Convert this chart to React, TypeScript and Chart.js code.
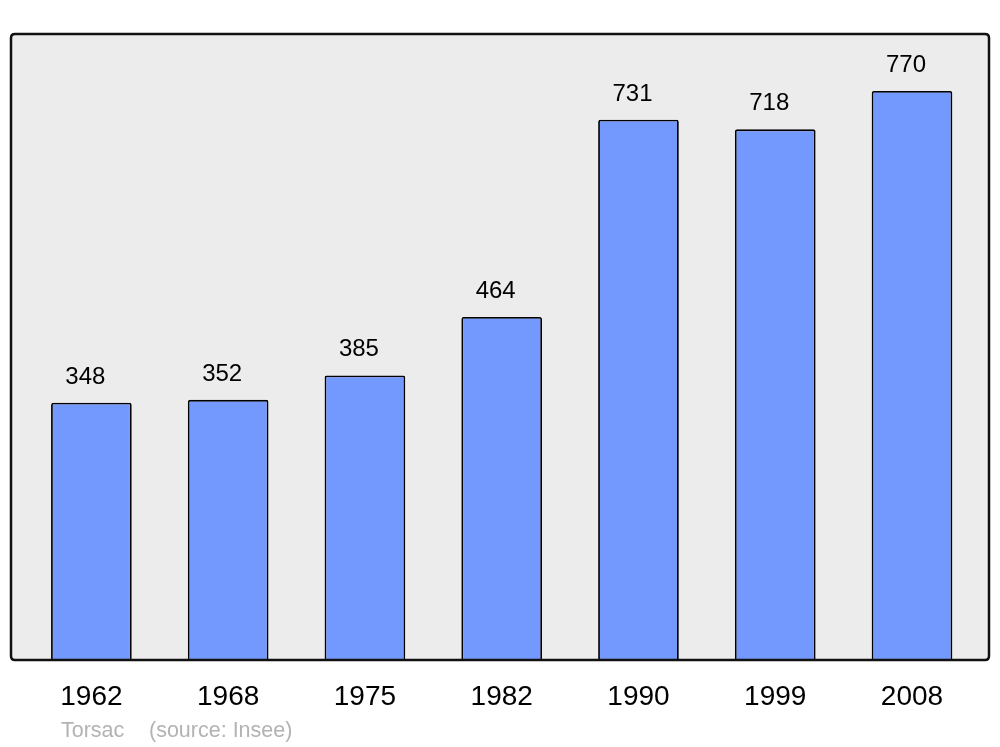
import React, { useEffect, useRef } from "react";
import { Chart, registerables } from "chart.js";

Chart.register(...registerables);

const years = ["1962", "1968", "1975", "1982", "1990", "1999", "2008"];
const population = [348, 352, 385, 464, 731, 718, 770];
const townName = "Torsac";
const sourceText = "(source: Insee)";

const FONT = "'Liberation Sans', Arial, sans-serif";

function framePath(ctx: any, x0: number, y0: number, x1: number, y1: number, r: number) {
  ctx.beginPath();
  ctx.moveTo(x0 + r, y0);
  ctx.lineTo(x1 - r, y0);
  ctx.quadraticCurveTo(x1, y0, x1, y0 + r);
  ctx.lineTo(x1, y1 - r);
  ctx.quadraticCurveTo(x1, y1, x1 - r, y1);
  ctx.lineTo(x0 + r, y1);
  ctx.quadraticCurveTo(x0, y1, x0, y1 - r);
  ctx.lineTo(x0, y0 + r);
  ctx.quadraticCurveTo(x0, y0, x0 + r, y0);
  ctx.closePath();
}

const framePlugin = {
  id: "frame",
  beforeDraw(chart: any) {
    const { ctx, chartArea } = chart;
    ctx.save();
    framePath(ctx, 11, chartArea.top, 989, chartArea.bottom, 4);
    ctx.fillStyle = "#ececec";
    ctx.fill();
    ctx.restore();
  },
  afterDatasetsDraw(chart: any) {
    const { ctx, chartArea } = chart;
    ctx.save();
    framePath(ctx, 11, chartArea.top, 989, chartArea.bottom, 4);
    ctx.lineWidth = 2.5;
    ctx.strokeStyle = "#111";
    ctx.stroke();

    // value labels
    const meta = chart.getDatasetMeta(0);
    ctx.fillStyle = "#000";
    ctx.font = `24px ${FONT}`;
    ctx.textAlign = "center";
    ctx.textBaseline = "alphabetic";
    meta.data.forEach((bar: any, i: number) => {
      ctx.fillText(String(population[i]), bar.x - 6, bar.y - 19);
    });

    // footer
    ctx.fillStyle = "#b3b3b3";
    ctx.font = `21.5px ${FONT}`;
    ctx.textAlign = "left";
    ctx.fillText(townName, 61, 737);
    ctx.fillText(sourceText, 149, 737);
    ctx.restore();
  },
};

export default function App() {
  const ref = useRef<HTMLCanvasElement>(null);
  useEffect(() => {
    document.body.style.margin = "0";
    const chart = new Chart(ref.current!, {
      type: "bar",
      data: {
        labels: years,
        datasets: [
          {
            data: population,
            backgroundColor: "#7399ff",
            borderColor: "#000",
            borderWidth: 1.8,
            borderRadius: { topLeft: 2, topRight: 2, bottomLeft: 0, bottomRight: 0 },
            borderSkipped: "bottom",
            barPercentage: 0.59,
            categoryPercentage: 1,
          },
        ],
      },
      options: {
        animation: false,
        responsive: false,
        maintainAspectRatio: false,
        layout: { padding: { top: 34, left: 23, right: 19.6, bottom: 0 } },
        plugins: { legend: { display: false }, tooltip: { enabled: false } },
        scales: {
          x: {
            grid: { display: false },
            border: { display: false },
            ticks: {
              color: "#000",
              font: { family: FONT, size: 28 },
              padding: 12,
              maxRotation: 0,
            },
            afterFit: (s: any) => {
              s.height = 87;
            },
          },
          y: {
            display: false,
            min: 0,
            max: 847,
          },
        },
      },
      plugins: [framePlugin],
    });
    return () => chart.destroy();
  }, []);
  return (
    <div style={{ position: "absolute", left: 0, top: 0, width: 1000, height: 747 }}>
      <canvas ref={ref} width={1000} height={747} style={{ display: "block" }} />
    </div>
  );
}
